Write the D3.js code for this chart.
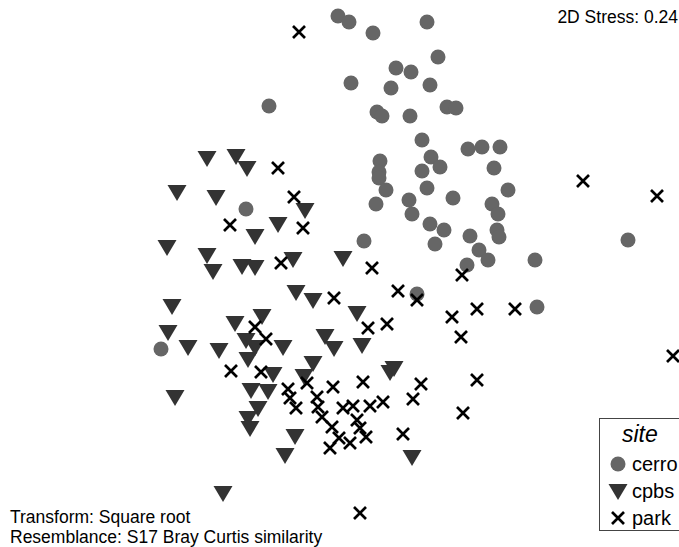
<!DOCTYPE html>
<html>
<head>
<meta charset="utf-8">
<script src="https://cdn.jsdelivr.net/npm/d3@7"></script>
<style>
  body { margin: 0; background: #fff; }
  svg { display: block; font-family: "Liberation Sans", Arial, sans-serif; }
</style>
</head>
<body>
<div id="container"></div>
<script>
// nMDS scores (axis 1, axis 2)
var cerro = [
  [-0.02, 2.57], [0.09, 2.51], [0.33, 2.40], [0.87, 2.51], [0.98, 2.16],
  [0.56, 2.05], [0.71, 2.01], [0.11, 1.90], [0.51, 1.85], [0.90, 1.88],
  [1.07, 1.66], [1.16, 1.65], [0.37, 1.61], [0.42, 1.57], [0.70, 1.57],
  [0.82, 1.33], [0.91, 1.16], [1.00, 1.06], [0.82, 1.02], [1.28, 1.24],
  [1.42, 1.26], [1.60, 1.26], [1.54, 1.05], [0.40, 1.12], [0.39, 1.01],
  [0.39, 0.95], [0.46, 0.83], [0.36, 0.69], [0.87, 0.85], [0.69, 0.73],
  [0.72, 0.59], [1.13, 0.75], [0.90, 0.49], [1.04, 0.43], [0.95, 0.29],
  [1.30, 0.37], [1.39, 0.23], [1.48, 0.13], [1.27, 0.08], [1.52, 0.69],
  [1.58, 0.59], [1.57, 0.43], [1.59, 0.36], [1.68, 0.83], [0.24, 0.32],
  [1.95, 0.13], [0.77, -0.21], [-0.71, 1.67], [-0.94, 0.64], [2.88, 0.33],
  [1.97, -0.34], [-1.79, -0.76]
];
var cpbs = [
  [-1.33, 1.15], [-1.04, 1.17], [-0.93, 1.05], [-1.63, 0.81], [-1.24, 0.76],
  [-0.35, 0.63], [-0.62, 0.49], [-0.85, 0.37], [-1.73, 0.26], [-1.33, 0.18],
  [-1.27, 0.02], [-0.98, 0.07], [-0.85, 0.06], [-0.47, 0.14], [0.03, 0.15],
  [-0.44, -0.19], [-0.27, -0.27], [-1.68, -0.33], [-1.05, -0.50], [-0.78, -0.43],
  [-1.72, -0.59], [-1.52, -0.74], [-1.21, -0.77], [-0.94, -0.67], [-0.85, -0.74],
  [-0.57, -0.74], [-0.15, -0.63], [-0.06, -0.75], [-0.92, -0.86], [-0.27, -0.90],
  [-0.67, -1.01], [-0.36, -1.03], [-0.89, -1.17], [-0.72, -1.18], [-1.65, -1.24],
  [-0.82, -1.35], [-0.92, -1.45], [-0.90, -1.55], [-0.45, -1.63], [-0.55, -1.82],
  [-1.17, -2.20], [0.17, -0.40], [0.22, -0.72], [0.50, -0.99], [0.54, -0.95],
  [0.72, -1.84]
];
var park = [
  [-0.41, 2.41], [-0.62, 1.05], [-0.46, 0.76], [-1.10, 0.48], [-0.37, 0.45],
  [-0.59, 0.10], [0.32, 0.05], [1.22, -0.02], [0.58, -0.18], [0.77, -0.27],
  [-0.06, -0.25], [1.12, -0.44], [1.37, -0.36], [1.75, -0.36], [0.28, -0.55],
  [0.47, -0.51], [1.21, -0.64], [-0.85, -0.54], [-0.74, -0.66], [-1.09, -0.98],
  [-0.79, -0.99], [-0.33, -1.10], [-0.07, -1.14], [0.23, -1.09], [0.81, -1.11],
  [1.37, -1.07], [0.73, -1.26], [1.23, -1.40], [-0.52, -1.16], [-0.50, -1.25],
  [-0.44, -1.35], [-0.23, -1.24], [-0.22, -1.34], [-0.18, -1.44], [-0.08, -1.54],
  [0.03, -1.35], [0.13, -1.33], [0.30, -1.33], [0.43, -1.29], [0.17, -1.47],
  [0.20, -1.55], [0.26, -1.64], [0.10, -1.70], [-0.01, -1.65], [-0.10, -1.75],
  [0.63, -1.61], [0.20, -2.40], [2.43, 0.92], [3.17, 0.77], [3.33, -0.83]
];
var sites = ["cerro", "cpbs", "park"];
var stressLabel = "2D Stress: 0.24";
var notes = ["Transform: Square root", "Resemblance: S17 Bray Curtis similarity"];

var width = 679, height = 547;

var x = d3.scaleLinear().domain([-3.4, 3.39]).range([0, width]);
var y = d3.scaleLinear().domain([2.73, -2.74]).range([0, height]);

var svg = d3.select("#container").append("svg")
    .attr("width", width)
    .attr("height", height);

var tri = "M-9.5,-7L9.5,-7L0,9Z";
var cross = "M-6,-6L6,6M-6,6L6,-6";

function drawSite(g, name) {
  if (name == "cerro") {
    g.append("circle").attr("r", 7.5).attr("fill", "#666");
  } else if (name == "cpbs") {
    g.append("path").attr("d", tri).attr("fill", "#333");
  } else {
    g.append("path").attr("d", cross).attr("fill", "none")
      .attr("stroke", "#000").attr("stroke-width", 2.7);
  }
}

[["cerro", cerro], ["cpbs", cpbs], ["park", park]].forEach(function(s) {
  svg.append("g").selectAll("g")
    .data(s[1])
    .enter()
    .append("g")
    .attr("transform", function(d) { return "translate(" + x(d[0]) + "," + y(d[1]) + ")"; })
    .each(function() { drawSite(d3.select(this), s[0]); });
});

svg.append("text")
  .attr("x", 678).attr("y", 23)
  .attr("text-anchor", "end")
  .style("font-size", "17.5px")
  .text(stressLabel);

svg.selectAll(".note")
  .data(notes)
  .enter()
  .append("text")
  .attr("class", "note")
  .attr("x", 10)
  .attr("y", function(d, i) { return 523 + i * 20; })
  .style("font-size", "17.5px")
  .text(function(d) { return d; });

// legend
var leg = svg.append("g");
leg.append("rect")
  .attr("x", 599.5).attr("y", 418.5)
  .attr("width", 100).attr("height", 112)
  .attr("fill", "#fff").attr("stroke", "#444");
leg.append("text")
  .attr("x", 622).attr("y", 442)
  .style("font-size", "23px").style("font-style", "italic")
  .text("site");
sites.forEach(function(name, i) {
  var g = leg.append("g").attr("transform", "translate(618," + (464 + i * 27) + ")");
  drawSite(g, name);
  leg.append("text")
    .attr("x", 632).attr("y", 471 + i * 27)
    .style("font-size", "20px")
    .text(name);
});
</script>
</body>
</html>
